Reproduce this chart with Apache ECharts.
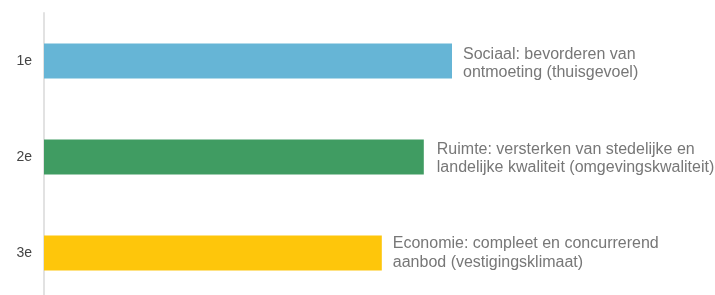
<!DOCTYPE html>
<html>
<head>
<meta charset="utf-8">
<script src="https://cdn.jsdelivr.net/npm/echarts@6/dist/echarts.min.js"></script>
<style>
  html, body { margin: 0; padding: 0; background: #fff; overflow: hidden; }
  /* the plot runs a little past the bottom edge of the window, as in the source */
  #chart { width: 715px; height: 301px; }
</style>
</head>
<body>
<div id="chart"></div>
<script>
// ranking of the three themes; bar length (share of the axis)
const ranks = ["1e", "2e", "3e"];
const scores = [68, 63.3, 56.3];
const themes = [
  "Sociaal: bevorderen van\nontmoeting (thuisgevoel)",
  "Ruimte: versterken van stedelijke en\nlandelijke kwaliteit (omgevingskwaliteit)",
  "Economie: compleet en concurrerend\naanbod (vestigingsklimaat)"
];
const colors = ["#66b5d6", "#409c62", "#fec60b"];

const chart = echarts.init(document.getElementById("chart"), null, { renderer: "canvas" });

chart.setOption({
  animation: false,
  grid: { left: 44, width: 600, top: 13, bottom: 0 },
  xAxis: { type: "value", min: 0, max: 100, show: false },
  yAxis: {
    type: "category",
    data: ranks,
    inverse: true,
    axisLine: { show: true, lineStyle: { color: "#e2e2e2", width: 2 } },
    axisTick: { show: false },
    axisLabel: { color: "#444", fontSize: 14, fontFamily: "Liberation Sans", margin: 12 }
  },
  series: [{
    type: "bar",
    barWidth: 35,
    data: scores.map((v, i) => ({
      value: v,
      itemStyle: { color: colors[i] },
      label: { formatter: themes[i], offset: [0, [2.5, 1.5, 0][i]], distance: [11, 13, 11][i] }
    })),
    label: {
      show: true,
      position: "right",
      color: "#777",
      fontSize: 16,
      lineHeight: 18.5,
      fontFamily: "Liberation Sans"
    }
  }]
});
</script>
</body>
</html>
